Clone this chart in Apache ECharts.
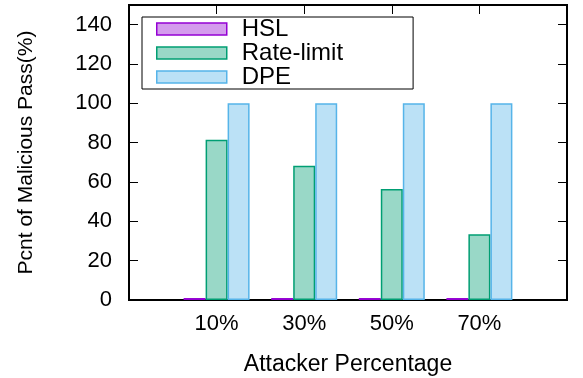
<!DOCTYPE html>
<html>
<head>
<meta charset="utf-8">
<script src="https://cdn.jsdelivr.net/npm/echarts@6/dist/echarts.min.js"></script>
<style>
html,body{margin:0;padding:0;background:#fff;}
#chart{width:583px;height:378px;}
</style>
</head>
<body>
<div id="chart"></div>
<script>
var categories = ['10%', '30%', '50%', '70%'];
var seriesNames = ['HSL', 'Rate-limit', 'DPE'];
var hslValues = [1, 1, 1, 1];
var rateLimitValues = [81.5, 68.3, 56.4, 33.4];
var dpeValues = [100, 100, 100, 100];
var yTicks = [0, 20, 40, 60, 80, 100, 120, 140];

var fills = ['#d49ced', '#99d8c7', '#bbe1f6'];
var borders = ['#9400d3', '#009e73', '#56b4e9'];
var FONT = '"Liberation Sans", Arial, Helvetica, sans-serif';

var axisCats = [''].concat(categories).concat(['']);
function pad(arr) { return [null].concat(arr).concat([null]); }
var allValues = [hslValues, rateLimitValues, dpeValues];

var chart = echarts.init(document.getElementById('chart'), null, {renderer: 'canvas'});
var series = seriesNames.map(function (name, i) {
  return {
    name: name,
    type: 'bar',
    data: pad(allValues[i]),
    barWidth: 22,
    barGap: '0%',
    itemStyle: {color: fills[i], borderColor: borders[i], borderWidth: 1.5},
    emphasis: {disabled: true},
    animation: false
  };
});

chart.setOption({
  animation: false,
  grid: {left: 129, right: 16, top: 5, bottom: 78, show: true, borderColor: '#000', borderWidth: 2,
    backgroundColor: 'transparent', outerBoundsMode: 'none', containLabel: false},
  legend: {
    orient: 'vertical',
    left: 142, top: 17,
    padding: [0, 70, 0, 14],
    itemGap: 0,
    itemWidth: 70,
    itemHeight: 12,
    borderColor: '#000',
    borderWidth: 1,
    icon: 'rect',
    selectedMode: false,
    textStyle: {fontFamily: FONT, fontSize: 24, color: '#000', lineHeight: 24, padding: [0, 0, 0, 10]},
    data: seriesNames.map(function (n, i) {
      return {name: n, itemStyle: {color: fills[i], borderColor: borders[i], borderWidth: 1.5}};
    })
  },
  xAxis: [{
    type: 'category',
    data: axisCats,
    boundaryGap: false,
    position: 'bottom',
    axisLine: {show: true, onZero: false, lineStyle: {color: '#000', width: 2}},
    axisTick: {show: true, inside: true, length: 9, interval: 0, lineStyle: {color: '#000', width: 1}},
    axisLabel: {interval: 0, margin: 13, fontFamily: FONT, fontSize: 22, color: '#000'},
    splitLine: {show: false},
    name: 'Attacker Percentage',
    nameLocation: 'middle',
    nameGap: 53,
    nameTextStyle: {fontFamily: FONT, fontSize: 23, color: '#000'}
  }, {
    type: 'category',
    data: axisCats,
    boundaryGap: false,
    position: 'top',
    axisLine: {show: true, onZero: false, lineStyle: {color: '#000', width: 2}},
    axisTick: {show: true, inside: true, length: 9, interval: 0, lineStyle: {color: '#000', width: 1}},
    axisLabel: {show: false},
    splitLine: {show: false}
  }],
  yAxis: [{
    type: 'value',
    min: 0, max: 150, interval: 20,
    position: 'left',
    axisLine: {show: true, onZero: false, lineStyle: {color: '#000', width: 2}},
    axisTick: {show: true, inside: true, length: 9, lineStyle: {color: '#000', width: 1}},
    axisLabel: {margin: 17, fontFamily: FONT, fontSize: 22, color: '#000',
      formatter: function (v) { return yTicks.indexOf(v) >= 0 ? String(v) : ''; }},
    splitLine: {show: false},
    name: 'Pcnt of Malicious Pass(%)',
    nameLocation: 'middle',
    nameGap: 92,
    nameTextStyle: {fontFamily: FONT, fontSize: 21, color: '#000'}
  }, {
    type: 'value',
    min: 0, max: 150, interval: 20,
    position: 'right',
    axisLine: {show: true, onZero: false, lineStyle: {color: '#000', width: 2}},
    axisTick: {show: true, inside: true, length: 9, lineStyle: {color: '#000', width: 1}},
    axisLabel: {show: false},
    splitLine: {show: false}
  }],
  series: series
});
</script>
</body>
</html>
